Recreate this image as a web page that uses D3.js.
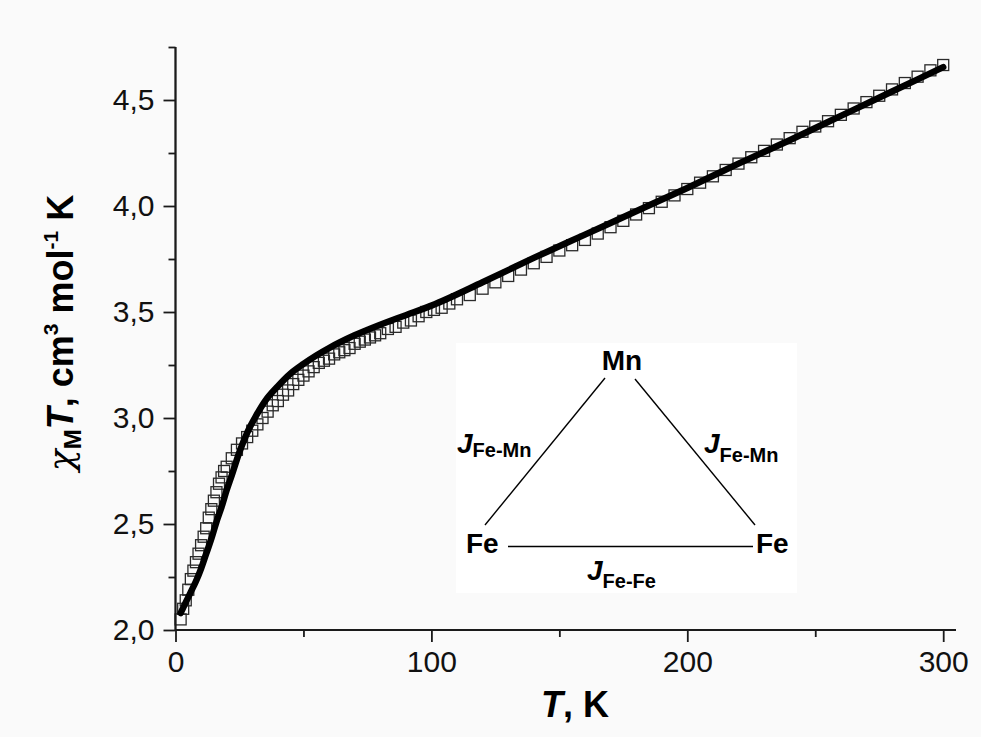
<!DOCTYPE html>
<html>
<head>
<meta charset="utf-8">
<script src="https://cdn.jsdelivr.net/npm/d3@7/dist/d3.min.js"></script>
<style>
  html, body { margin: 0; padding: 0; background: #fafafa; }
  svg { display: block; font-family: "Liberation Sans", Arial, sans-serif; }
</style>
</head>
<body>
<svg id="chart" width="981" height="737"></svg>
<script>
// ---- data ----
const dataT = [2,3,4,5,6,7,8,9,10,11,12,13,14,15,16,17,18,19,20,22,24,26,28,30,32,34,36,38,40,42,44,46,48,50,52,54,56,58,60,62,64,66,68,70,72,74,76,78,80,83,86,89,92,95,98,101,104,107,110,115,120,125,130,135,140,145,150,155,160,165,170,175,180,185,190,195,200,205,210,215,220,225,230,235,240,245,250,255,260,265,270,275,280,285,290,295,300];
const dataChiT = [2.05,2.10,2.14,2.19,2.24,2.28,2.32,2.36,2.40,2.44,2.48,2.53,2.57,2.61,2.65,2.69,2.72,2.75,2.77,2.81,2.85,2.88,2.91,2.94,2.97,3.00,3.03,3.06,3.08,3.11,3.13,3.16,3.18,3.20,3.22,3.24,3.26,3.27,3.28,3.30,3.31,3.32,3.33,3.35,3.36,3.37,3.38,3.39,3.40,3.42,3.43,3.45,3.46,3.48,3.50,3.51,3.52,3.54,3.56,3.58,3.61,3.64,3.67,3.70,3.73,3.76,3.79,3.815,3.84,3.87,3.90,3.93,3.96,3.99,4.02,4.05,4.08,4.11,4.14,4.17,4.20,4.23,4.26,4.29,4.32,4.35,4.375,4.40,4.43,4.46,4.49,4.52,4.55,4.58,4.61,4.64,4.665];

const fitT = [2,4,6,8,10,12,14,16,18,20,22,25,28,31,35,40,45,50,55,60,70,80,90,100,120,140,160,180,200,220,240,260,280,300];
const fitChiT = [2.08,2.13,2.18,2.23,2.29,2.36,2.43,2.51,2.58,2.66,2.73,2.84,2.93,3.00,3.08,3.15,3.21,3.255,3.295,3.33,3.39,3.44,3.485,3.53,3.64,3.755,3.865,3.975,4.085,4.20,4.31,4.425,4.54,4.655];

const xMajorTicks = [0,100,200,300];
const xMinorTicks = [50,150,250];
const yMajorTicks = [2.0,2.5,3.0,3.5,4.0,4.5];
const yMinorTicks = [2.25,2.75,3.25,3.75,4.25,4.75];

// ---- layout ----
const svg = d3.select("#chart");
const x = d3.scaleLinear().domain([0, 305]).range([175.5, 956]);
const y = d3.scaleLinear().domain([2.0, 4.75]).range([630, 47]);
const fmt = v => d3.format(".1f")(v).replace(".", ",");
const axisColor = "#1a1a1a";

// data squares
const sq = 11;
svg.append("g").selectAll("rect")
  .data(dataT.map((t, i) => [t, dataChiT[i]]))
  .join("rect")
  .attr("x", d => x(d[0]) - sq / 2)
  .attr("y", d => y(d[1]) - sq / 2)
  .attr("width", sq).attr("height", sq)
  .attr("fill", "none")
  .attr("stroke", "#2a2a2a")
  .attr("stroke-width", 1.3);

// fit line
svg.append("path")
  .datum(fitT.map((t, i) => [t, fitChiT[i]]))
  .attr("fill", "none")
  .attr("stroke", "#000")
  .attr("stroke-width", 6.5)
  .attr("stroke-linecap", "round")
  .attr("stroke-linejoin", "round")
  .attr("d", d3.line().x(d => x(d[0])).y(d => y(d[1])).curve(d3.curveMonotoneX));

// axes
const xAxis = svg.append("g").attr("transform", `translate(0,${y(2.0)})`)
  .call(d3.axisBottom(x).tickValues(xMajorTicks).tickSize(12).tickPadding(9).tickFormat(d3.format("d")));
const xMinor = svg.append("g").attr("transform", `translate(0,${y(2.0)})`)
  .call(d3.axisBottom(x).tickValues(xMinorTicks).tickSize(7).tickFormat(""));
const yAxis = svg.append("g").attr("transform", `translate(${x(0)},0)`)
  .call(d3.axisLeft(y).tickValues(yMajorTicks).tickSize(12).tickPadding(9).tickFormat(fmt));
const yMinor = svg.append("g").attr("transform", `translate(${x(0)},0)`)
  .call(d3.axisLeft(y).tickValues(yMinorTicks).tickSize(7).tickFormat(""));

[xAxis, xMinor, yAxis, yMinor].forEach(g => {
  g.select(".domain").attr("stroke", axisColor).attr("stroke-width", 1.8);
  g.selectAll(".tick line").attr("stroke", axisColor).attr("stroke-width", 1.8);
  g.selectAll(".tick text").attr("fill", "#111").style("font-size", "30px")
    .style("font-family", '"Liberation Sans", Arial, sans-serif');
});
[xAxis, xMinor].forEach(g => g.select(".domain").attr("d", `M${x(0)},0H${x(305)}`));
[yAxis, yMinor].forEach(g => g.select(".domain").attr("d", `M0,${y(2.0)}V${y(4.75)}`));

// axis titles
const xt = svg.append("text")
  .attr("x", 575).attr("y", 717)
  .attr("text-anchor", "middle")
  .style("font-size", "36px").style("font-weight", "bold").attr("fill", "#000");
xt.append("tspan").style("font-style", "italic").text("T");
xt.append("tspan").text(", K");

const yt = svg.append("text")
  .attr("transform", "translate(73,333) rotate(-90)")
  .attr("text-anchor", "middle")
  .style("font-size", "36px").style("font-weight", "bold").attr("fill", "#000");
yt.append("tspan").style("font-style", "italic").style("font-family", '"DejaVu Serif", serif').style("font-weight", "normal").text("χ");
yt.append("tspan").attr("dy", 8).style("font-size", "24px").text("M");
yt.append("tspan").attr("dy", -8).style("font-style", "italic").text("T");
yt.append("tspan").text(", cm");
yt.append("tspan").attr("dy", -15).style("font-size", "21px").text("3");
yt.append("tspan").attr("dy", 15).text(" mol");
yt.append("tspan").attr("dy", -15).style("font-size", "21px").text("-1");
yt.append("tspan").attr("dy", 15).text(" K");

// inset diagram
const inset = svg.append("g");
inset.append("rect").attr("x", 456).attr("y", 343).attr("width", 341).attr("height", 250).attr("fill", "#ffffff");
const lineStyle = s => s.attr("stroke", "#000").attr("stroke-width", 1.4);
inset.append("line").attr("x1", 485).attr("y1", 525).attr("x2", 605).attr("y2", 378).call(lineStyle);
inset.append("line").attr("x1", 635).attr("y1", 379).attr("x2", 755).attr("y2", 525).call(lineStyle);
inset.append("line").attr("x1", 508).attr("y1", 546.5).attr("x2", 753).attr("y2", 546.5).call(lineStyle);

const lab = (tx, ty, txt, anchor) => inset.append("text").attr("x", tx).attr("y", ty)
  .attr("text-anchor", anchor || "start").style("font-size", "28px").style("font-weight", "bold").attr("fill", "#000").text(txt);
lab(622, 370, "Mn", "middle");
lab(466, 553, "Fe");
lab(756, 553, "Fe");

const jlab = (tx, ty, sub, dy) => {
  const t = inset.append("text").attr("x", tx).attr("y", ty)
    .style("font-weight", "bold").attr("fill", "#000");
  t.append("tspan").style("font-style", "italic").style("font-size", "28px").text("J");
  t.append("tspan").attr("dy", dy).style("font-size", "20px").text(sub);
};
jlab(457, 453, "Fe-Mn", 4);
jlab(704, 453, "Fe-Mn", 9);
jlab(587, 580, "Fe-Fe", 8);
</script>
</body>
</html>
